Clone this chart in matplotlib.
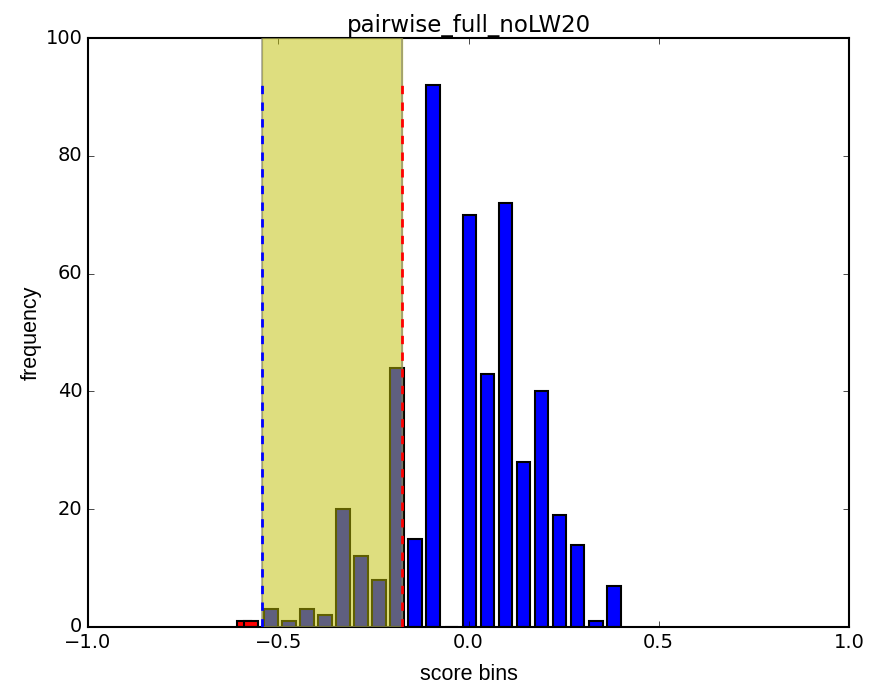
import numpy as np
import matplotlib
matplotlib.use("Agg")
import matplotlib.pyplot as plt

plt.style.use("classic")

# Histogram of positive scores (20 equal bins between data min and max)
bin_start = -0.542
bin_stop = 0.405
pos_counts = [3, 1, 3, 2, 20, 12, 8, 44, 15, 92, 0, 70, 43, 72, 28, 40, 19, 14, 1, 7]

# Negative scores histogram (only non-empty bars visible)
neg_centers = [-0.589, -0.572]
neg_counts = [1, 1]

# Threshold lines / shaded region
low_thr = -0.543
high_thr = -0.175

title = "pairwise_full_noLW20"
xlabel = "score bins"
ylabel = "frequency"

edges = np.linspace(bin_start, bin_stop, len(pos_counts) + 1)
centers = (edges[:-1] + edges[1:]) / 2
bw = edges[1] - edges[0]

fig = plt.figure(figsize=(8.69, 6.86), dpi=100, facecolor="white")
ax = fig.add_axes([88 / 869, (686 - 627) / 686, (849 - 88) / 869, (627 - 38) / 686])

ax.bar(centers, pos_counts, width=bw * 0.77, align="center", color="b",
       edgecolor="k", linewidth=1.5, zorder=2)
ax.bar(neg_centers, neg_counts, width=bw * 0.77, align="center", color="r",
       edgecolor="k", linewidth=1.5, zorder=2)

ax.axvspan(low_thr, high_thr, color="y", alpha=0.5, zorder=3)
ax.axvspan(low_thr, high_thr, facecolor="none", edgecolor="0.45", alpha=0.6,
           linewidth=1.2, zorder=3)

top = max(pos_counts)
ax.vlines(low_thr, 0, top, colors="b", linestyles="dashed", linewidth=2, zorder=4)
ax.vlines(high_thr, 0, top, colors="r", linestyles="dashed", linewidth=2, zorder=4)

ax.set_xlim(-1.0, 1.0)
ax.set_ylim(0, 100)
ax.set_xticks([-1.0, -0.5, 0.0, 0.5, 1.0])
ax.set_yticks([0, 20, 40, 60, 80, 100])
ax.tick_params(labelsize=14)
ax.tick_params(axis="x", pad=4)
for s in ax.spines.values():
    s.set_linewidth(1.5)

ax.set_title(title, fontsize=16.5, pad=4)
ax.set_xlabel(xlabel, fontsize=15.5, family="Liberation Sans", labelpad=9)
ax.set_ylabel(ylabel, fontsize=15.5, family="Liberation Sans", labelpad=3)

fig.savefig("out.png", dpi=100, facecolor="white")
